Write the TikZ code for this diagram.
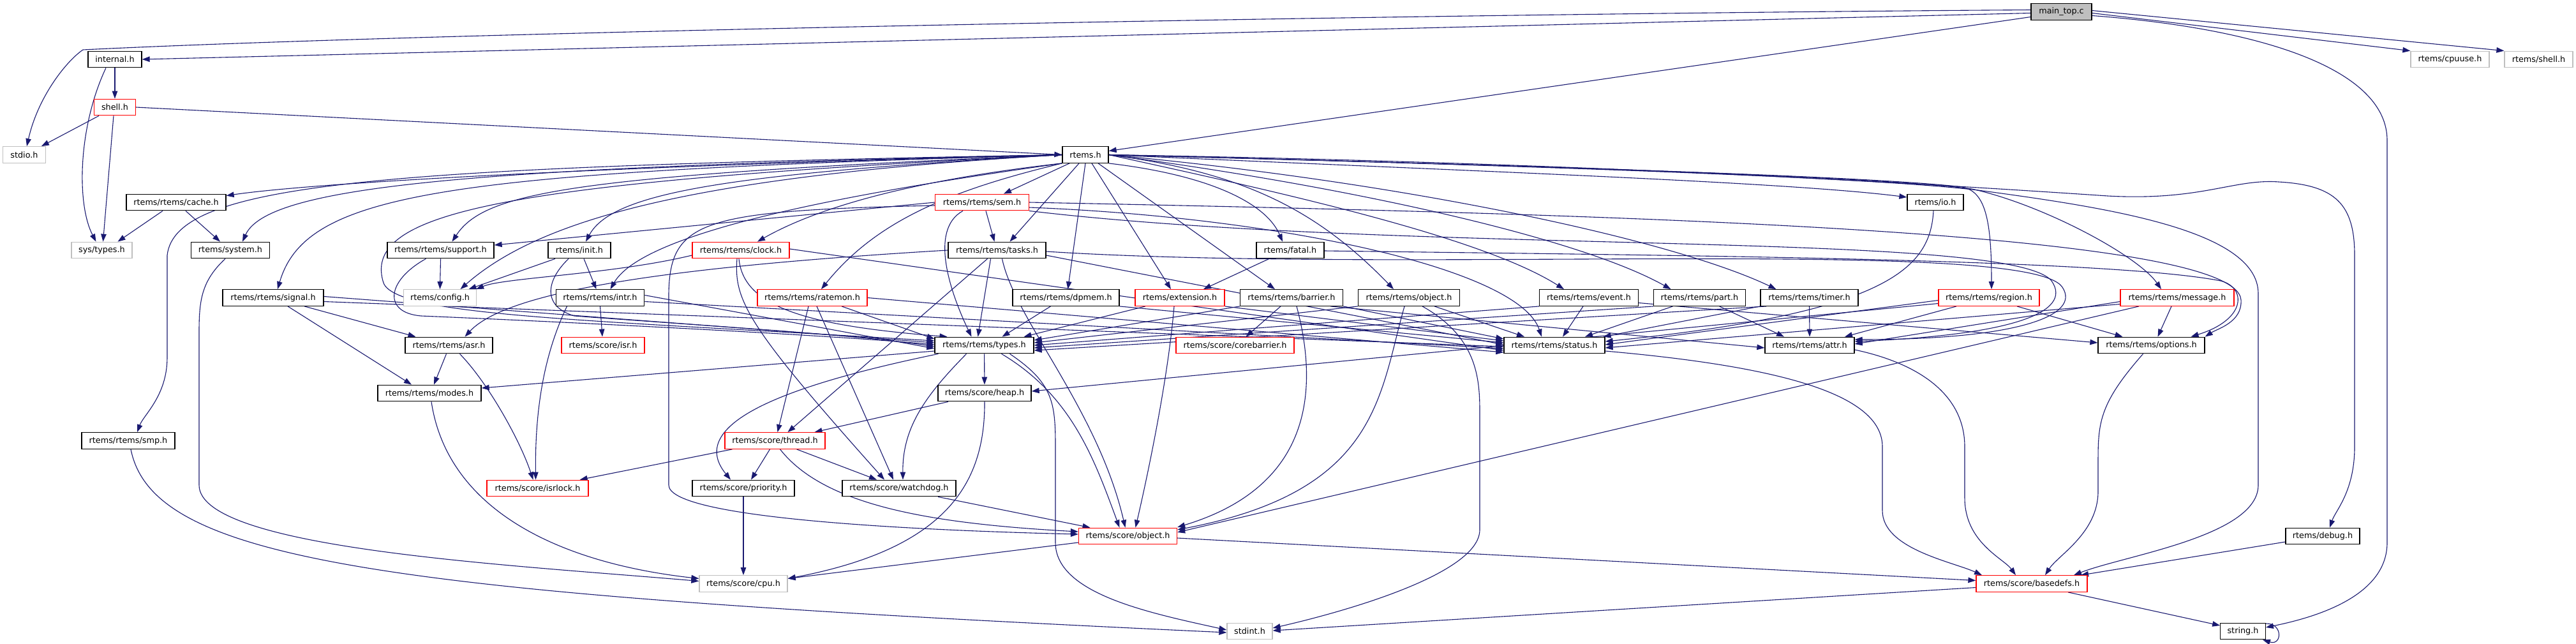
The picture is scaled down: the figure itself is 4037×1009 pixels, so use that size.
\documentclass[tikz,border=0pt]{standalone}
\usepackage{fontspec}
\setmainfont{DejaVu Sans}
\usetikzlibrary{arrows.meta}
\definecolor{edgeblue}{RGB}{25,25,112}
\definecolor{nodegray}{RGB}{191,191,191}
\pgfdeclarelayer{edgelayer}
\pgfsetlayers{edgelayer,main}
\tikzset{
  nb/.style={draw=black, line width=1.3pt, fill=white, minimum height=25.5pt, inner xsep=2pt, inner ysep=0pt, font=\fontsize{12.8}{14}\selectfont},
  nr/.style={nb, draw=red},
  ng/.style={nb, draw=nodegray},
  edg/.style={draw=edgeblue, line width=1.1pt, -{Triangle[length=12pt,width=8.5pt]}},
}
\begin{document}
\begin{tikzpicture}[x=1pt,y=-1pt]
\useasboundingbox (0,0) rectangle (4037,1009);
% ---------------- nodes ----------------
\node[nb, fill=nodegray, minimum width=95] (main) at (3230.5,18.5) {main\_top.c};
\node[nb, minimum width=84] (internal) at (180,93) {internal.h};
\node[ng, minimum width=123] (cpuuse) at (3839.5,93) {rtems/cpuuse.h};
\node[ng, minimum width=107] (rshell) at (3978.5,93) {rtems/shell.h};
\node[nr, minimum width=65] (shell) at (180,168) {shell.h};
\node[ng, minimum width=66.5] (stdio) at (38,242.5) {stdio.h};
\node[nb, minimum width=72] (rtems) at (1701,242.5) {rtems.h};
\node[nb, minimum width=156] (cache) at (276,317) {rtems/rtems/cache.h};
\node[nr, minimum width=146.5] (sem) at (1539,317) {rtems/rtems/sem.h};
\node[nb, minimum width=88] (io) at (3033,317) {rtems/io.h};
\node[ng, minimum width=95] (systypes) at (159.5,392) {sys/types.h};
\node[nb, minimum width=122.5] (system) at (361,392) {rtems/system.h};
\node[nb, minimum width=167] (support) at (690.5,392) {rtems/rtems/support.h};
\node[nb, minimum width=98] (init) at (908,392) {rtems/init.h};
\node[nr, minimum width=152] (clock) at (1161,392) {rtems/rtems/clock.h};
\node[nb, minimum width=153] (tasks) at (1562.5,392) {rtems/rtems/tasks.h};
\node[nb, minimum width=106] (fatal) at (2022,392) {rtems/fatal.h};
\node[nb, minimum width=158] (signal) at (428,466.5) {rtems/rtems/signal.h};
\node[ng, minimum width=114] (config) at (689.5,466.5) {rtems/config.h};
\node[nb, minimum width=138.5] (intr) at (940.5,466.5) {rtems/rtems/intr.h};
\node[nr, minimum width=172] (ratemon) at (1273,466.5) {rtems/rtems/ratemon.h};
\node[nb, minimum width=167] (dpmem) at (1670.5,466.5) {rtems/rtems/dpmem.h};
\node[nr, minimum width=140] (ext) at (1849,466.5) {rtems/extension.h};
\node[nb, minimum width=161] (barrier) at (2024,466.5) {rtems/rtems/barrier.h};
\node[nb, minimum width=159] (robject) at (2208,466.5) {rtems/rtems/object.h};
\node[nb, minimum width=154.5] (event) at (2490,466.5) {rtems/rtems/event.h};
\node[nb, minimum width=143.5] (part) at (2663.5,466.5) {rtems/rtems/part.h};
\node[nb, minimum width=153] (timer) at (2835.5,466.5) {rtems/rtems/timer.h};
\node[nr, minimum width=158] (region) at (3117,466.5) {rtems/rtems/region.h};
\node[nr, minimum width=178] (message) at (3412,466.5) {rtems/rtems/message.h};
\node[nb, minimum width=137] (asr) at (703.5,541) {rtems/rtems/asr.h};
\node[nr, minimum width=130] (isr) at (945,541) {rtems/score/isr.h};
\node[nb, minimum width=155] (types) at (1542.5,541) {rtems/rtems/types.h};
\node[nr, minimum width=185] (corebarrier) at (1935.5,541) {rtems/score/corebarrier.h};
\node[nb, minimum width=158] (status) at (2436,541) {rtems/rtems/status.h};
\node[nb, minimum width=140] (attr) at (2836,541) {rtems/rtems/attr.h};
\node[nb, minimum width=167] (options) at (3371.5,541) {rtems/rtems/options.h};
\node[nb, minimum width=162] (modes) at (673,616) {rtems/rtems/modes.h};
\node[nb, minimum width=146] (heap) at (1543,616) {rtems/score/heap.h};
\node[nb, minimum width=146] (smp) at (201,690.5) {rtems/rtems/smp.h};
\node[nr, minimum width=157] (thread) at (1214.5,690.5) {rtems/score/thread.h};
\node[nr, minimum width=159] (isrlock) at (842.5,765) {rtems/score/isrlock.h};
\node[nb, minimum width=160] (priority) at (1165,765) {rtems/score/priority.h};
\node[nb, minimum width=178] (watchdog) at (1409,765) {rtems/score/watchdog.h};
\node[nr, minimum width=154] (sobject) at (1767.5,840) {rtems/score/object.h};
\node[nb, minimum width=116] (debug) at (3640,840) {rtems/debug.h};
\node[ng, minimum width=138] (cpu) at (1165,914.5) {rtems/score/cpu.h};
\node[nr, minimum width=174] (basedefs) at (3184,914.5) {rtems/score/basedefs.h};
\node[ng, minimum width=71] (stdint) at (1958.5,989) {stdint.h};
\node[nb, minimum width=70.5] (string) at (3515,989) {string.h};
% ---------------- edges ----------------
\begin{pgfonlayer}{edgelayer}
\fill[white] (0,0) rectangle (4037,1009);
% main_top.c
\draw[edg] ([yshift=3]main.west) .. controls (2200,22) and (700,50) .. (130,78) .. controls (105,95) and (60,150) .. ([xshift=4]stdio.north);
\draw[edg] ([yshift=-2]main.west) -- (internal.east);
\draw[edg] ([yshift=-8]main.west) -- ([yshift=6]rtems.east);
\draw[edg] ([yshift=-2]main.east) -- (cpuuse.north west);
\draw[edg] ([yshift=2]main.east) -- (rshell.north west);
\draw[edg] ([yshift=-6]main.east) .. controls (3550,45) and (3741,110) .. (3741,220) -- (3741,850) .. controls (3741,930) and (3640,965) .. ([yshift=6]string.east);
\draw[edg] ([xshift=-5,yshift=-2]string.north east) .. controls +(32,-6) and +(32,10) .. ([xshift=-5]string.south east);
% internal.h, shell.h
\draw[edg] (internal) -- (shell);
\draw[edg] ([xshift=-14]internal.south) .. controls (122,200) and (120,320) .. ([xshift=-9]systypes.north);
\draw[edg] ([xshift=-25]shell.south) -- ([xshift=-7]stdio.north east);
\draw[edg] ([xshift=-2]shell.south) -- ([xshift=2]systypes.north);
\draw[edg] (shell.east) -- (rtems.west);
% rtems.h to the left
\draw[edg] (rtems.west) .. controls (900,262) and (480,288) .. ([yshift=-3]cache.north east);
\draw[edg] (rtems.west) .. controls (750,262) and (420,290) .. ([xshift=19]system.north);
\draw[edg] (rtems.west) .. controls (600,262) and (275,285) .. (262,400) -- (262,560) .. controls (262,620) and (225,650) .. ([xshift=14]smp.north);
\draw[edg] (rtems.west) .. controls (700,270) and (480,300) .. ([xshift=7]signal.north);
\draw[edg] (rtems.west) .. controls (900,275) and (760,300) .. ([xshift=18]support.north);
\draw[edg] (rtems.west) .. controls (1100,275) and (850,340) .. ([xshift=32]config.north);
\draw[edg] (rtems.west) .. controls (1150,272) and (960,300) .. ([xshift=10]init.north);
\draw[edg] (rtems.south west) .. controls (1350,300) and (1010,360) .. ([xshift=16]intr.north);
\draw[edg] (rtems.west) .. controls (800,285) and (570,330) .. (600,440) .. controls (610,495) and (900,500) .. ([yshift=7]types.west);
\draw[edg] (rtems.south west) .. controls (1450,280) and (1290,320) .. ([xshift=26]clock.north);
\draw[edg] (rtems.south west) .. controls (1480,300) and (1370,350) .. ([xshift=14]ratemon.north);
% rtems.h downwards
\draw[edg] ([xshift=-25]rtems.south) -- ([xshift=34]sem.north);
\draw[edg] ([xshift=-10]rtems.south) -- ([xshift=20]tasks.north);
\draw[edg] (rtems.south) -- ([xshift=3]dpmem.north);
\draw[edg] ([xshift=10]rtems.south) -- ([xshift=-14]ext.north);
\draw[edg] ([xshift=20]rtems.south) -- ([xshift=-26]barrier.north);
\draw[edg] (rtems.south east) .. controls (1900,275) and (1985,320) .. ([xshift=-12]fatal.north);
% rtems.h to the right
\draw[edg] (rtems.east) .. controls (1950,270) and (2065,330) .. ([xshift=-24]robject.north);
\draw[edg] (rtems.east) .. controls (2000,300) and (2320,370) .. ([xshift=-39]event.north);
\draw[edg] (rtems.east) .. controls (2100,290) and (2470,370) .. ([xshift=-45]part.north);
\draw[edg] (rtems.east) .. controls (2200,285) and (2620,375) .. ([xshift=-52]timer.north);
\draw[edg] (rtems.east) .. controls (2300,268) and (2800,285) .. ([yshift=8]io.west);
\draw[edg] (rtems.east) .. controls (2500,262) and (2950,278) .. (3075,293) .. controls (3110,300) and (3121,340) .. ([xshift=4]region.north);
\draw[edg] (rtems.east) .. controls (2500,262) and (2950,278) .. (3090,296) .. controls (3200,320) and (3350,400) .. ([xshift=-25]message.north);
\draw[edg] (rtems.east) .. controls (2500,262) and (2950,280) .. (3100,298) .. controls (3300,325) and (3539,360) .. (3539,460) -- (3539,760) .. controls (3539,840) and (3330,870) .. ([xshift=66]basedefs.north);
\draw[edg] (rtems.east) .. controls (2500,255) and (3050,290) .. (3303,307) .. controls (3450,315) and (3500,280) .. (3571,285) .. controls (3660,290) and (3690,320) .. (3690,400) -- (3690,700) .. controls (3690,770) and (3660,800) .. ([xshift=11]debug.north);
% cache, system, support, init
\draw[edg] ([xshift=-21]cache.south) -- ([xshift=25]systypes.north);
\draw[edg] ([xshift=15]cache.south) -- ([xshift=-16]system.north);
\draw[edg] ([xshift=-8]system.south) .. controls (316,440) and (312,470) .. (312,520) -- (312,760) .. controls (312,860) and (800,885) .. ([yshift=4]cpu.west);
\draw[edg] (support.south) -- (config.north);
\draw[edg] ([xshift=-23]support.south) .. controls (605,440) and (600,490) .. (660,495) .. controls (900,505) and (1300,525) .. ([yshift=1]types.west);
\draw[edg] ([xshift=-38]init.south) -- ([xshift=45]config.north);
\draw[edg] ([xshift=7]init.south) -- ([xshift=-6]intr.north);
\draw[edg] ([xshift=-17]init.south) .. controls (855,440) and (850,480) .. (900,495) .. controls (1100,510) and (1350,525) .. ([yshift=-2]types.west);
% signal, intr, asr
\draw[edg] ([xshift=23]signal.south) -- ([xshift=-28]modes.north);
\draw[edg] ([xshift=49]signal.south) -- ([xshift=-52]asr.north);
\draw[edg] ([yshift=2]signal.east) -- ([yshift=4]types.west);
\draw[edg] ([yshift=-6]signal.east) -- ([yshift=-2]status.west);
\draw[edg] (intr.south) -- ([xshift=-1]isr.north);
\draw[edg] ([xshift=-52]intr.south) .. controls (860,540) and (838,620) .. ([xshift=-3]isrlock.north);
\draw[edg] ([yshift=4]intr.east) -- ([yshift=-5]types.west);
\draw[edg] ([yshift=-6]intr.east) -- ([yshift=-5]status.west);
\draw[edg] ([xshift=-4]asr.south) -- ([xshift=7]modes.north);
\draw[edg] ([xshift=17]asr.south) .. controls (765,600) and (815,690) .. ([xshift=-7]isrlock.north);
% types.h
\draw[edg] ([yshift=-9]types.west) -- ([yshift=8]modes.east);
\draw[edg] (types) -- (heap);
\draw[edg] ([xshift=-72]types.south) .. controls (1250,600) and (1070,660) .. ([xshift=-20]priority.north);
\draw[edg] ([xshift=-28]types.south) .. controls (1450,620) and (1414,670) .. ([xshift=6]watchdog.north);
\draw[edg] ([xshift=27]types.south) .. controls (1680,620) and (1715,720) .. ([xshift=-13]sobject.north);
\draw[edg] ([xshift=40]types.south) .. controls (1650,600) and (1654,630) .. (1654,700) -- (1654,850) .. controls (1654,930) and (1800,960) .. ([yshift=2]stdint.west);
% heap, thread, priority, watchdog, object
\draw[edg] ([xshift=-57]heap.south) -- ([xshift=62]thread.north);
\draw[edg] (heap.south) .. controls (1544,760) and (1480,860) .. ([yshift=8]cpu.east);
\draw[edg] ([xshift=-67]thread.south) -- ([xshift=-14]isrlock.north east);
\draw[edg] ([xshift=-8]thread.south) -- ([xshift=12]priority.north);
\draw[edg] ([xshift=34]thread.south) -- ([xshift=-35]watchdog.north);
\draw[edg] ([xshift=8]thread.south) .. controls (1290,790) and (1450,820) .. ([yshift=7]sobject.west);
\draw[edg] (priority) -- (cpu);
\draw[edg] ([xshift=61]watchdog.south) -- ([xshift=-59]sobject.north);
\draw[edg] ([yshift=-10]sobject.west) -- ([yshift=8]cpu.east);
\draw[edg] ([yshift=-3]sobject.east) -- ([yshift=5]basedefs.west);
\draw[edg] ([xshift=3]modes.south) .. controls (700,790) and (860,880) .. ([yshift=8]cpu.west);
\draw[edg] ([xshift=4]smp.south) .. controls (240,880) and (600,930) .. ([yshift=-2]stdint.west);
% basedefs and friends
\draw[edg] ([yshift=-6]basedefs.west) -- ([yshift=1]stdint.east);
\draw[edg] ([xshift=57]basedefs.south) -- ([yshift=9]string.west);
\draw[edg] ([yshift=-9]debug.west) -- ([xshift=77]basedefs.north);
\draw[edg] ([yshift=-9]status.east) .. controls (2800,575) and (2950,620) .. (2950,700) -- (2950,800) .. controls (2950,860) and (3060,880) .. ([xshift=-78]basedefs.north);
\draw[edg] ([yshift=-7]attr.east) .. controls (3010,570) and (3079,620) .. (3079,700) -- (3079,780) .. controls (3079,850) and (3140,875) .. ([xshift=-25]basedefs.north);
\draw[edg] ([xshift=-13]options.south) .. controls (3292,630) and (3288,660) .. (3288,720) -- (3288,770) .. controls (3288,835) and (3225,870) .. ([xshift=21]basedefs.north);
% sem.h
\draw[edg] ([xshift=6]sem.south) -- ([xshift=-4]tasks.north);
\draw[edg] (sem.west) -- ([yshift=8]support.east);
\draw[edg] ([yshift=-5]sem.west) .. controls (1100,330) and (1050,345) .. (1048,460) -- (1048,760) .. controls (1048,810) and (1400,830) .. ([yshift=3]sobject.west);
\draw[edg] ([xshift=-30]sem.south) .. controls (1455,360) and (1490,460) .. ([xshift=-20]types.north);
\draw[edg] ([yshift=-8]sem.east) .. controls (2000,340) and (2380,420) .. ([xshift=-20]status.north);
\draw[edg] (sem.south east) .. controls (2200,400) and (3150,360) .. (3215,440) .. controls (3250,490) and (3150,525) .. ([yshift=6]attr.east);
\draw[edg] (sem.east) .. controls (2500,335) and (3505,360) .. (3512,470) .. controls (3514,505) and (3475,515) .. (options.north east);
% tasks.h
\draw[edg] (tasks.west) .. controls (1100,415) and (800,450) .. ([xshift=25]asr.north);
\draw[edg] ([xshift=-15]tasks.south) -- ([xshift=20]thread.north);
\draw[edg] ([xshift=-10]tasks.south) -- ([xshift=-10]types.north);
\draw[edg] ([xshift=8]tasks.south) .. controls (1590,500) and (1720,640) .. ([xshift=-4]sobject.north);
\draw[edg] ([yshift=-8]tasks.east) -- ([yshift=1]status.west);
\draw[edg] ([yshift=-2]tasks.east) .. controls (2200,430) and (3180,370) .. (3232,450) .. controls (3262,495) and (3160,532) .. ([yshift=9]attr.east);
% clock.h, ratemon.h
\draw[edg] ([yshift=-8]clock.west) .. controls (960,430) and (790,435) .. ([xshift=-1]config.north east);
\draw[edg] ([xshift=-6]clock.south) .. controls (1150,470) and (1170,510) .. ([xshift=-23]watchdog.north);
\draw[edg] ([xshift=-3]clock.south) .. controls (1165,480) and (1260,510) .. ([xshift=-58]types.north);
\draw[edg] ([yshift=2]clock.east) -- ([yshift=-8]status.west);
\draw[edg] ([xshift=-6]ratemon.south) -- ([xshift=4]thread.north);
\draw[edg] ([xshift=7]ratemon.south) -- ([xshift=-9]watchdog.north);
\draw[edg] ([xshift=46]ratemon.south) -- ([yshift=10]types.west);
\draw[edg] (ratemon.east) -- ([yshift=-11]status.west);
% dpmem, extension, fatal
\draw[edg] ([xshift=-24]dpmem.south) -- ([xshift=28]types.north);
\draw[edg] (dpmem.south east) -- ([yshift=4]status.west);
\draw[edg] ([xshift=-54]ext.south) -- ([xshift=62]types.north);
\draw[edg] ([xshift=-9]ext.south) .. controls (1830,600) and (1795,760) .. ([xshift=12]sobject.north);
\draw[edg] (ext.south east) -- ([yshift=7]status.west);
\draw[edg] ([xshift=-33]fatal.south) -- ([xshift=37]ext.north);
\draw[edg] ([yshift=-1]fatal.east) .. controls (2600,400) and (3300,405) .. (3480,440) .. controls (3520,450) and (3522,500) .. ([xshift=62]options.north);
% barrier, object
\draw[edg] ([xshift=-17]barrier.south) -- ([xshift=17]corebarrier.north);
\draw[edg] (barrier.south west) -- ([yshift=8]types.east);
\draw[edg] ([xshift=8]barrier.south) .. controls (2064,600) and (2064,760) .. ([yshift=14]sobject.east);
\draw[edg] (barrier.south east) -- ([yshift=10]status.west);
\draw[edg] ([xshift=-20]barrier.south east) -- ([yshift=-4]attr.west);
\draw[edg] (robject.south west) -- ([yshift=4]types.east);
\draw[edg] ([xshift=-7]robject.south) .. controls (2161,620) and (2161,770) .. ([yshift=10]sobject.east);
\draw[edg] ([xshift=21]robject.south) .. controls (2319,530) and (2319,600) .. (2319,650) -- (2319,830) .. controls (2319,900) and (2100,960) .. ([yshift=5]stdint.east);
\draw[edg] ([xshift=40]robject.south) -- ([xshift=-47]status.north);
% event, part, timer, io
\draw[edg] ([xshift=-9]event.south) -- ([xshift=13]status.north);
\draw[edg] ([yshift=-8]event.east) -- ([yshift=4]options.west);
\draw[edg] (event.south west) -- (types.east);
\draw[edg] ([xshift=-42]part.south) -- ([xshift=48]status.north);
\draw[edg] ([xshift=31]part.south) -- ([xshift=-40]attr.north);
\draw[edg] (part.south west) -- ([yshift=-4]types.east);
\draw[edg] (timer.south) -- (attr.north);
\draw[edg] (timer.south west) -- ([xshift=-3]status.north east);
\draw[edg] ([xshift=10]timer.south west) -- ([yshift=-8]types.east);
\draw[edg] ([xshift=-3]io.south) .. controls (3025,420) and (2960,490) .. ([yshift=6]status.east);
% region, message
\draw[edg] ([xshift=44]region.south) -- ([xshift=-45]options.north);
\draw[edg] ([xshift=-51]region.south) -- ([xshift=55]attr.north);
\draw[edg] ([yshift=-4]region.west) -- ([yshift=1]status.east);
\draw[edg] ([yshift=-9]region.west) -- ([yshift=3]heap.east);
\draw[edg] ([xshift=-9]message.south) -- ([xshift=10]options.north);
\draw[edg] ([yshift=-6]message.west) -- ([yshift=2]attr.east);
\draw[edg] ([yshift=-10]message.west) -- ([yshift=-4]status.east);
\draw[edg] ([xshift=-60]message.south) -- ([yshift=6]sobject.east);
\end{pgfonlayer}
\end{tikzpicture}
\end{document}
